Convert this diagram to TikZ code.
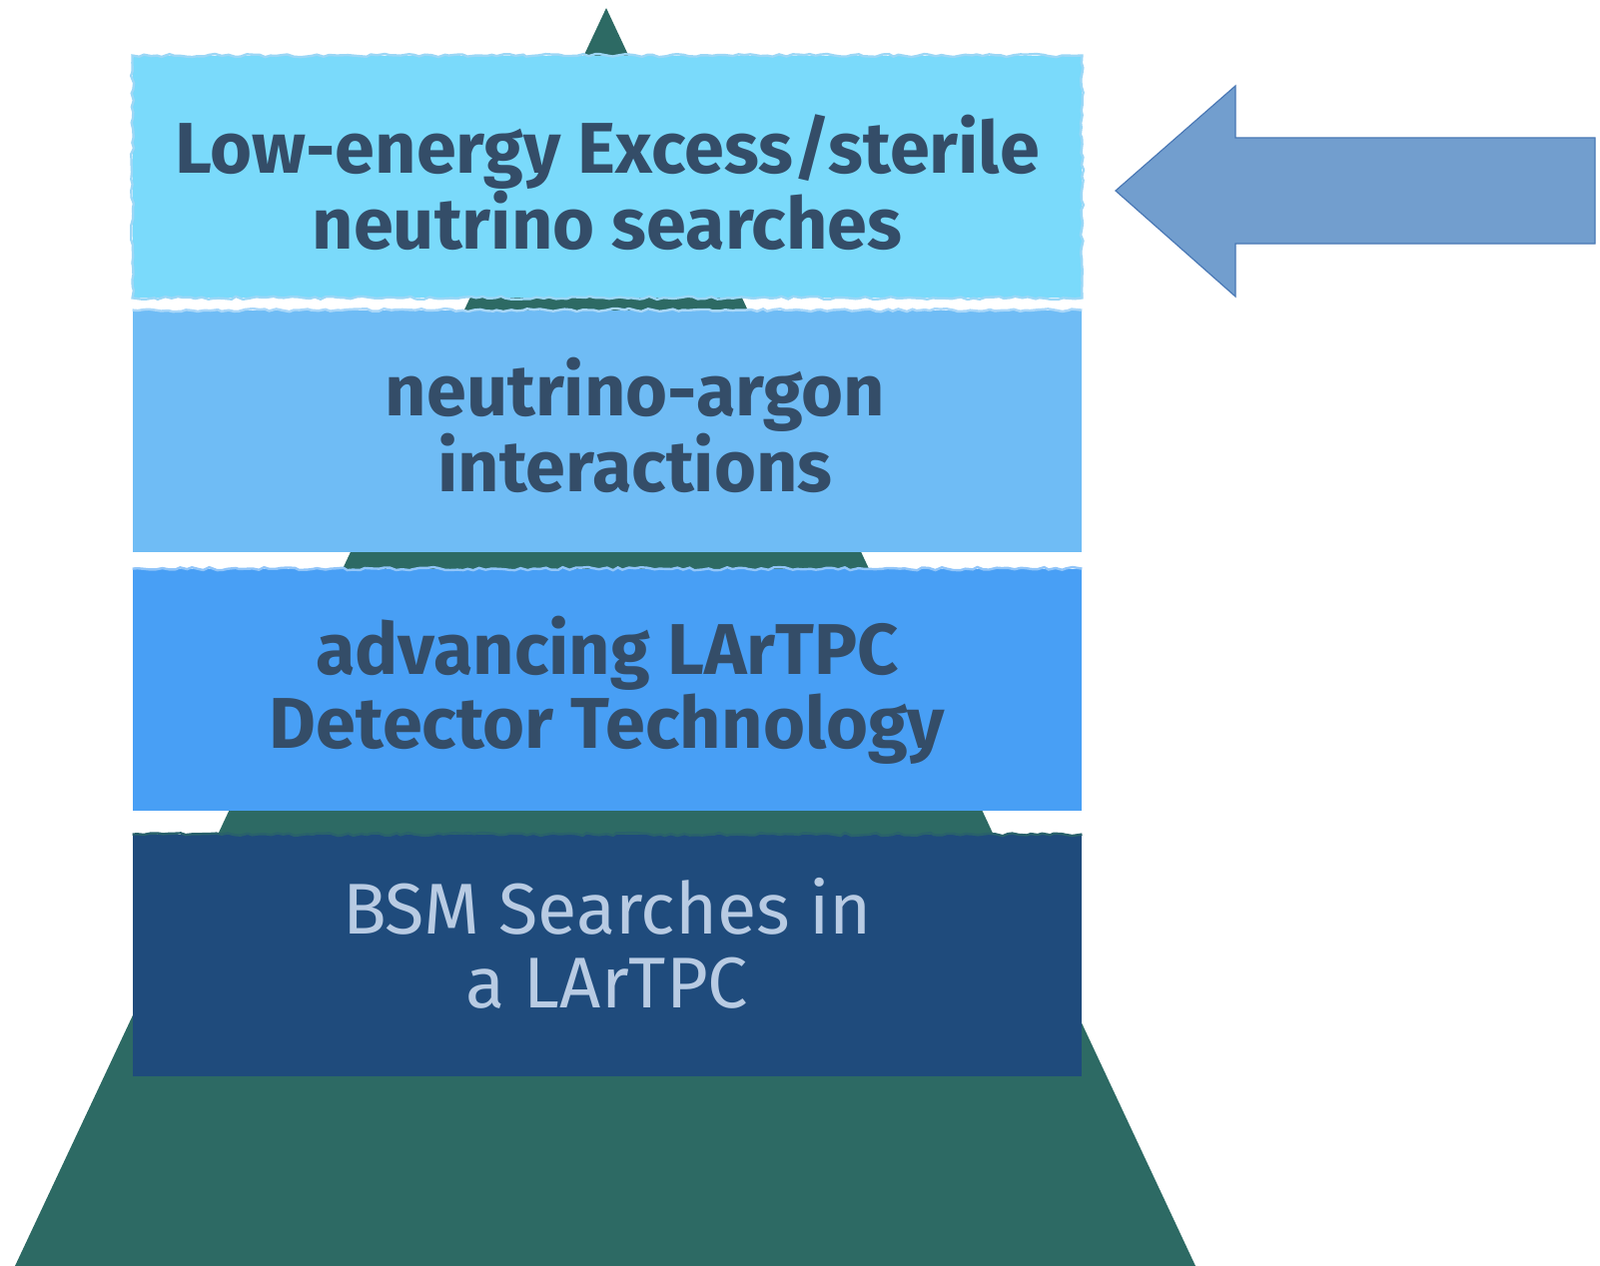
\documentclass[tikz,border=0pt]{standalone}
\usepackage{fontspec}
\setmainfont{Fira Sans}
\usetikzlibrary{decorations.pathmorphing}

\definecolor{pyramidgreen}{HTML}{2D6A64}
\definecolor{tierone}{HTML}{7ADAFB}
\definecolor{tieroneedge}{HTML}{9CD7F6}
\definecolor{tiertwo}{HTML}{6FBCF5}
\definecolor{tierthree}{HTML}{489FF5}
\definecolor{tierfour}{HTML}{1F4B7C}
\definecolor{inkdark}{HTML}{344D68}
\definecolor{inklight}{HTML}{B8CBE3}
\definecolor{arrowfill}{HTML}{729ECE}
\definecolor{arrowline}{HTML}{4A78B5}

\tikzset{
  tier/.style={minimum width=475pt,minimum height=121pt,inner sep=0pt},
  tiertext/.style={align=center,font=\bfseries\fontsize{36}{37}\selectfont,text=inkdark},
  brush/.style={decorate,decoration={random steps,segment length=3pt,amplitude=0.8pt},line width=1.2pt}
}

\begin{document}
\begin{tikzpicture}[x=0.5pt,y=-0.5pt]
    \useasboundingbox (0,0) rectangle (1602,1268);

    % pyramid behind the tiers
    \path[fill=pyramidgreen] (607,8) -- (1197,1268) -- (15,1268) -- cycle;
    \coordinate (apex) at (607,8);

    % tiers
    \node[tier,fill=tierone] (LEE) at (608,177) {};
    \node[tier,fill=tiertwo] (NuAr) at (608,432) {};
    \node[tier,fill=tierthree] (Tech) at (608,691) {};
    \node[tier,fill=tierfour] (BSM) at (608,957) {};

    \draw[brush,tieroneedge] (LEE.north west) -- (LEE.north east) -- (LEE.south east) -- (LEE.south west) -- cycle;
    \draw[brush,white!40!tiertwo] (NuAr.north west) -- (NuAr.north east);
    \draw[brush,white!40!tierthree] (Tech.north west) -- (Tech.north east);
    \draw[brush,pyramidgreen!70!tierfour] (BSM.north west) -- (BSM.north east);

    \node[tiertext] (LEEtext) at ([yshift=-3pt]LEE.center) {Low-energy Excess/sterile\\neutrino searches};
    \node[tiertext] (NuArtext) at ([xshift=14pt,yshift=3pt]NuAr.center) {neutrino-argon\\interactions};
    \node[tiertext] (Techtext) at (Tech.center) {advancing LArTPC\\Detector Technology};
    \node[tiertext,text=inklight,font=\fontsize{36}{37}\selectfont] (BSMtext) at ([yshift=6pt]BSM.center) {BSM Searches in\\a LArTPC};

    % pointer
    \draw[fill=arrowfill,draw=arrowline,line width=0.6pt]
      (1117,191) -- (1237,86) -- (1237,138) -- (1597,138) -- (1597,244) -- (1237,244) -- (1237,297) -- cycle;
\end{tikzpicture}
\end{document}
